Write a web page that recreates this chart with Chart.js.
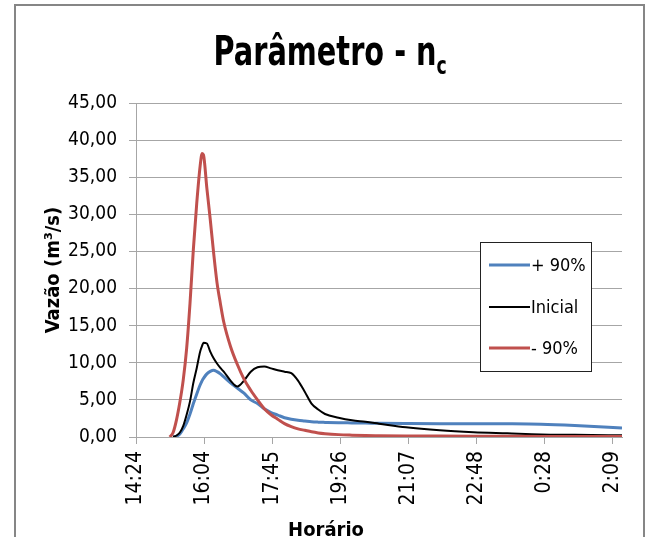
<!DOCTYPE html>
<html>
<head>
<meta charset="utf-8">
<script src="https://cdn.jsdelivr.net/npm/chart.js@4.4.0/dist/chart.umd.min.js"></script>
<style>
    html, body { margin: 0; padding: 0; background: #fff; }
    #wrap { position: relative; width: 648px; height: 537px; overflow: hidden; }
    #frame { position: absolute; left: 14px; top: 4px; width: 627px; height: 560px; border: 2px solid #868686; }
    #title { position: absolute; left: 15px; width: 630px; top: 28px; text-align: center;
             font: bold 40px 'Liberation Sans Narrow', 'DejaVu Sans Condensed', sans-serif; color: #000;
             transform: scaleX(0.8); transform-origin: 316px 0; }
    #title sub { font-size: 24px; }
    #xtitle { position: absolute; left: 226px; width: 200px; top: 517px; text-align: center;
              font: bold 20px 'Liberation Sans Narrow', 'DejaVu Sans Condensed', sans-serif; color: #000; }
    canvas { position: absolute; left: 0; top: 0; }
</style>
</head>
<body>
<div id="wrap">
    <canvas id="chart" width="648" height="537"></canvas>
    <div id="frame"></div>
    <div id="title">Parâmetro - n<sub>c</sub></div>
    <div id="xtitle">Horário</div>
</div>
<script>
// time in minutes after 14:24
const minutes = [50, 55, 60, 65, 70, 75, 80, 85,
    90, 95, 98, 100, 105, 110, 115, 120, 125, 130,
    140, 150, 160, 170, 180, 190, 200, 210, 220, 230,
    240, 250, 260, 270, 280, 300, 320, 340, 360, 400,
    450, 500, 550, 600, 650, 700, 720];

const plus90 = [null, 0, 0.1, 0.4, 1.1, 1.9, 3.1, 4.5,
    5.8, 7.0, 7.6, 7.9, 8.5, 8.85, 9.0, 8.8, 8.5, 8.1,
    7.3, 6.6, 5.9, 5.0, 4.5, 3.8, 3.3, 2.95, 2.6, 2.4,
    2.25, 2.15, 2.05, 2.0, 1.97, 1.92, 1.9, 1.88, 1.85, 1.82,
    1.8, 1.8, 1.78, 1.72, 1.55, 1.32, 1.2];

const inicial = [null, 0, 0.2, 0.6, 1.5, 3.0, 4.8, 7.3,
    9.3, 11.5, 12.3, 12.7, 12.6, 11.5, 10.6, 9.9, 9.3, 8.8,
    7.6, 6.8, 7.6, 8.8, 9.4, 9.5, 9.25, 9.0, 8.8, 8.6,
    7.6, 6.1, 4.5, 3.7, 3.1, 2.6, 2.25, 2.05, 1.8, 1.3,
    0.9, 0.65, 0.5, 0.35, 0.3, 0.25, 0.23];

const minus90 = [0, 0.6, 2.3, 4.7, 7.7, 11.9, 18.0, 25.3,
    31.5, 36.5, 38.2, 38.0, 33.5, 29.3, 24.8, 20.8, 18.0, 15.5,
    12.2, 9.8, 7.8, 6.3, 5.0, 3.8, 3.0, 2.4, 1.8, 1.4,
    1.1, 0.9, 0.7, 0.55, 0.45, 0.32, 0.25, 0.2, 0.18, 0.15,
    0.12, 0.1, 0.09, 0.08, 0.08, 0.08, 0.08];

const seriesLabels = ['+ 90%', 'Inicial', '- 90%'];
const tickMinutes = [0, 100.8, 201.6, 302.4, 403.2, 504, 604.8, 705.6];
const tickLabels = ['14:24', '16:04', '17:45', '19:26', '21:07', '22:48', '0:28', '2:09'];

const FONT = "'Liberation Sans Narrow', 'DejaVu Sans Condensed', sans-serif";
const GRID = '#a6a6a6';

function toPoints(values) {
    return minutes.map((m, i) => ({ x: m, y: values[i] }));
}

// legend box inside the plot, like the excel one
const boxLegend = {
    id: 'boxLegend',
    afterDraw(chart) {
        const ctx = chart.ctx;
        const x = 480, y = 242, w = 111, h = 129;
        ctx.save();
        ctx.fillStyle = '#fff';
        ctx.fillRect(x, y, w, h);
        ctx.strokeStyle = '#222';
        ctx.lineWidth = 1;
        ctx.strokeRect(x + 0.5, y + 0.5, w, h);
        const rows = [265, 307, 348];
        chart.data.datasets.forEach((ds, i) => {
            ctx.strokeStyle = ds.borderColor;
            ctx.lineWidth = ds.borderWidth;
            ctx.beginPath();
            ctx.moveTo(489, rows[i]);
            ctx.lineTo(530, rows[i]);
            ctx.stroke();
            ctx.fillStyle = '#000';
            ctx.font = '18px ' + FONT;
            ctx.textBaseline = 'middle';
            ctx.fillText(ds.label, 531, rows[i] + 1);
        });
        ctx.restore();
    }
};

new Chart(document.getElementById('chart'), {
    type: 'line',
    data: {
        datasets: [
            { label: seriesLabels[0], data: toPoints(plus90), borderColor: '#4f81bd', borderWidth: 3, order: 2 },
            { label: seriesLabels[1], data: toPoints(inicial), borderColor: '#000000', borderWidth: 2, order: 1 },
            { label: seriesLabels[2], data: toPoints(minus90), borderColor: '#c0504d', borderWidth: 3, order: 0 }
        ]
    },
    options: {
        responsive: false,
        animation: false,
        layout: { padding: { top: 103, right: 26, left: 0, bottom: 0 } },
        elements: {
            point: { radius: 0 },
            line: { cubicInterpolationMode: 'monotone', fill: false }
        },
        plugins: {
            legend: { display: false },
            tooltip: { enabled: false }
        },
        scales: {
            x: {
                type: 'linear',
                min: 0,
                max: 720,
                afterBuildTicks: scale => {
                    scale.ticks = tickMinutes.map(v => ({ value: v }));
                },
                afterFit: scale => { scale.height = 100; },
                ticks: {
                    callback: (v, i) => tickLabels[i],
                    autoSkip: false,
                    minRotation: 90,
                    maxRotation: 90,
                    padding: 7,
                    color: '#000',
                    font: { family: FONT, size: 21 }
                },
                grid: { drawOnChartArea: false, color: GRID, tickLength: 7 },
                border: { color: GRID }
            },
            y: {
                min: 0,
                max: 45,
                afterFit: scale => { scale.width = 136; },
                ticks: {
                    stepSize: 5,
                    padding: 12,
                    color: '#000',
                    font: { family: FONT, size: 19 },
                    callback: v => v.toFixed(2).replace('.', ',')
                },
                grid: { color: GRID, tickLength: 7 },
                border: { color: GRID },
                title: {
                    display: true,
                    text: 'Vazão (m³/s)',
                    color: '#000',
                    font: { family: FONT, size: 20, weight: 'bold' },
                    padding: { top: 42, bottom: 0 }
                }
            }
        }
    },
    plugins: [boxLegend]
});
</script>
</body>
</html>
